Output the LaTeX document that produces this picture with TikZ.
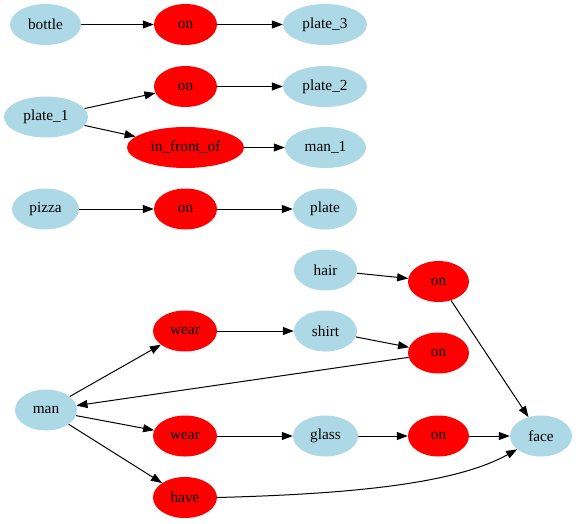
\documentclass[tikz,border=0pt]{standalone}
\usepackage{fontspec}
\setmainfont{Liberation Serif}
\usetikzlibrary{arrows.meta,shapes.geometric}
\definecolor{entblue}{RGB}{173,216,230}
\definecolor{relred}{RGB}{255,0,0}
\begin{document}
\begin{tikzpicture}[x=1pt,y=-1pt,
  every node/.style={ellipse,inner sep=0pt,minimum height=41pt,font=\fontsize{15.3}{15.3}\selectfont},
  ent/.style={fill=entblue,minimum width=#1},
  rel/.style={fill=relred,minimum width=#1},
  edge/.style={draw=black,line width=1pt,-{Triangle[length=11pt,width=8pt]}}]
\useasboundingbox (0,0) rectangle (576,523);
% first group
\node[ent=71pt] (bottle) at (45.5,24.5) {bottle};
\node[rel=63pt] (on1) at (185.5,24.5) {on};
\node[ent=84pt] (plate3) at (325,24.5) {plate\_3};
% second group
\node[ent=84pt] (plate1) at (46,117) {plate\_1};
\node[rel=63pt] (on2) at (185.5,86.5) {on};
\node[ent=84pt] (plate2) at (325,86.5) {plate\_2};
\node[rel=117pt] (front) at (185.5,147.5) {in\_front\_of};
\node[ent=81pt] (man1) at (325.5,147.5) {man\_1};
% third group
\node[ent=67pt] (pizza) at (45.5,209) {pizza};
\node[rel=63pt] (on3) at (185.5,209) {on};
\node[ent=64pt] (plate) at (325,209) {plate};
% fourth group
\node[ent=63pt] (hair) at (325.5,270) {hair};
\node[rel=61pt] (on4) at (438.5,281.5) {on};
\node[ent=62pt] (man) at (46,410) {man};
\node[rel=64pt] (wear1) at (185,331) {wear};
\node[ent=63pt] (shirt) at (325.5,331) {shirt};
\node[rel=61pt] (on5) at (438.5,353) {on};
\node[rel=64pt] (wear2) at (185,436) {wear};
\node[ent=65pt] (glass) at (325.5,436) {glass};
\node[rel=61pt] (on6) at (438.5,436) {on};
\node[ent=62pt] (face) at (541,436) {face};
\node[rel=64pt] (have) at (185,497.5) {have};
% connectors
\draw[edge] (bottle) -- (on1);
\draw[edge] (on1) -- (plate3);
\draw[edge] (plate1) -- (on2);
\draw[edge] (on2) -- (plate2);
\draw[edge] (plate1) -- (front);
\draw[edge] (front) -- (man1);
\draw[edge] (pizza) -- (on3);
\draw[edge] (on3) -- (plate);
\draw[edge] (hair) -- (on4);
\draw[edge] (on4) -- (face);
\draw[edge] (man) -- (wear1);
\draw[edge] (wear1) -- (shirt);
\draw[edge] (shirt) -- (on5);
\draw[edge] (on5) -- (man);
\draw[edge] (man) -- (wear2);
\draw[edge] (wear2) -- (glass);
\draw[edge] (glass) -- (on6);
\draw[edge] (on6) -- (face);
\draw[edge] (man) -- (have);
\draw[edge] (have.east) .. controls (350,494) and (455,484) .. (face);
\end{tikzpicture}
\end{document}
